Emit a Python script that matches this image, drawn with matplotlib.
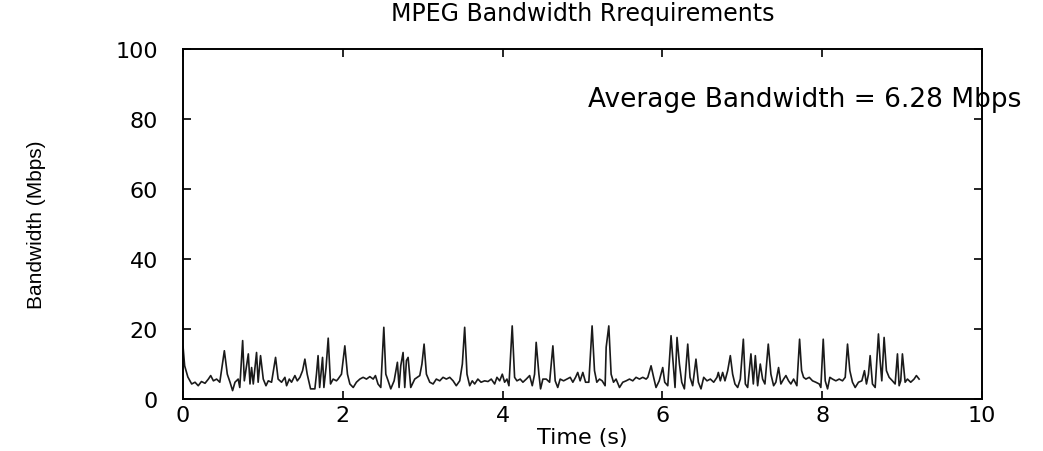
import matplotlib
matplotlib.use("Agg")
import matplotlib.pyplot as plt

# ---- data ----
time_s = [
    0.00, 0.02, 0.06, 0.108, 0.15, 0.19, 0.23, 0.275, 0.317, 0.346, 0.38, 0.42, 0.46,
    0.517, 0.554, 0.588, 0.62, 0.65, 0.69, 0.71, 0.746, 0.767, 0.817, 0.838, 0.858,
    0.879, 0.92, 0.94, 0.97, 1.004, 1.038, 1.067, 1.108, 1.158, 1.19, 1.233, 1.275,
    1.296, 1.33, 1.358, 1.40, 1.43, 1.463, 1.496, 1.525, 1.554, 1.596, 1.65, 1.67,
    1.69, 1.71, 1.746, 1.763, 1.79, 1.817, 1.846, 1.879, 1.92,
    1.94, 1.983, 2.025, 2.058, 2.088, 2.13, 2.17, 2.213, 2.254, 2.296, 2.338, 2.38,
    2.408, 2.44, 2.475, 2.513, 2.538, 2.567, 2.60, 2.642, 2.683, 2.704, 2.725, 2.754,
    2.775, 2.796, 2.817, 2.85, 2.90, 2.963, 2.99, 3.017, 3.046, 3.088, 3.13, 3.17,
    3.213, 3.254, 3.296, 3.338, 3.38, 3.42, 3.463, 3.496, 3.525, 3.554, 3.588, 3.62,
    3.65, 3.69, 3.73, 3.775, 3.817, 3.858,
    3.90, 3.929, 3.963, 3.996, 4.025, 4.054, 4.079, 4.12, 4.15, 4.179, 4.22, 4.254,
    4.296, 4.338, 4.371, 4.40, 4.42, 4.454, 4.475, 4.504, 4.546, 4.588, 4.629, 4.658,
    4.69, 4.72, 4.763, 4.804, 4.846, 4.879, 4.913, 4.94, 4.97, 5.004, 5.038, 5.079,
    5.12, 5.15, 5.179, 5.213, 5.246, 5.283, 5.296, 5.329, 5.358, 5.388, 5.42, 5.463,
    5.504, 5.546, 5.588, 5.629, 5.67, 5.713, 5.754, 5.796,
    5.817, 5.858, 5.89, 5.92, 5.96, 6.004, 6.029, 6.067, 6.108, 6.138, 6.158, 6.183,
    6.213, 6.242, 6.275, 6.317, 6.346, 6.379, 6.42, 6.45, 6.483, 6.517, 6.558, 6.60,
    6.642, 6.683, 6.70, 6.725, 6.754, 6.783, 6.817, 6.85, 6.879, 6.908, 6.942, 6.975,
    7.013, 7.038, 7.067, 7.108, 7.138, 7.163, 7.192, 7.225, 7.254, 7.283, 7.325, 7.358,
    7.392, 7.42, 7.454, 7.483, 7.517, 7.546, 7.579, 7.608, 7.642, 7.683, 7.717, 7.742,
    7.767,
    7.796, 7.838, 7.879, 7.92, 7.963, 7.983, 8.013, 8.038, 8.067, 8.096, 8.129, 8.171,
    8.213, 8.254, 8.288, 8.317, 8.346, 8.379, 8.413, 8.454, 8.496, 8.529, 8.554, 8.579,
    8.60, 8.629, 8.663, 8.704, 8.725, 8.746, 8.775, 8.804, 8.838, 8.879, 8.913, 8.942,
    8.963, 8.983, 9.004, 9.038, 9.067, 9.108, 9.15, 9.179, 9.213,
]
bandwidth_mbps = [
    15.0, 9.5, 6.3, 4.3, 4.8, 3.8, 5.0, 4.5, 5.7, 6.7, 5.2, 5.7, 4.8,
    13.8, 7.1, 4.8, 2.4, 4.8, 5.7, 3.3, 16.7, 5.2, 12.9, 4.3, 9.0,
    4.3, 13.3, 4.8, 12.4, 5.7, 3.8, 5.2, 4.8, 11.9, 5.7, 4.8, 6.2,
    3.8, 5.7, 4.8, 6.7, 5.2, 6.2, 8.1, 11.4, 7.1, 2.9, 2.9, 7.1,
    12.4, 3.3, 11.9, 3.3, 9.0, 17.4, 4.3, 5.7, 5.2,
    5.7, 7.1, 15.2, 7.1, 4.3, 3.3, 4.8, 5.7, 6.2, 5.7, 6.4, 5.7,
    6.7, 4.3, 3.3, 20.5, 7.1, 5.2, 2.9, 5.2, 10.5, 3.3, 9.5, 13.3,
    3.3, 11.0, 11.9, 3.3, 5.7, 6.7, 10.0, 15.7, 7.1, 4.8, 4.3, 5.7,
    5.2, 6.2, 5.7, 6.2, 5.2, 3.8, 5.2, 10.0, 20.5, 7.1, 3.8, 5.2,
    4.3, 5.7, 4.8, 5.2, 5.0, 5.7,
    4.3, 6.2, 5.2, 7.1, 4.8, 5.7, 3.8, 20.9, 6.2, 5.2, 5.7, 4.8,
    5.7, 6.7, 3.8, 7.1, 16.2, 7.1, 2.9, 5.7, 5.7, 4.8, 15.2, 5.2,
    3.3, 5.7, 5.2, 5.7, 6.2, 4.8, 6.2, 7.6, 5.2, 7.6, 4.8, 4.8,
    20.9, 8.1, 4.8, 5.7, 5.2, 3.8, 14.8, 20.9, 7.1, 4.8, 5.7, 3.3,
    4.8, 5.2, 5.7, 5.2, 6.2, 5.7, 6.2, 5.7,
    6.2, 9.5, 6.2, 3.3, 5.2, 9.0, 4.8, 3.8, 18.1, 9.0, 3.3, 17.6,
    10.0, 4.8, 2.9, 15.7, 6.2, 3.8, 11.4, 4.8, 2.9, 6.2, 5.2, 5.7,
    4.8, 6.2, 7.6, 5.2, 7.6, 5.2, 8.1, 12.4, 7.1, 4.3, 3.3, 5.7,
    17.1, 4.3, 3.3, 12.9, 4.3, 12.4, 3.8, 10.0, 5.7, 4.3, 15.7, 7.1,
    3.8, 4.8, 9.0, 4.3, 5.7, 6.7, 5.2, 4.3, 5.7, 3.8, 17.1, 8.1,
    6.2,
    5.7, 6.2, 5.2, 4.8, 4.3, 3.3, 17.1, 5.2, 2.9, 6.2, 5.7, 5.2,
    5.7, 5.2, 6.2, 15.7, 8.1, 4.8, 3.3, 4.8, 5.2, 8.1, 4.3, 7.1,
    12.4, 4.3, 3.3, 18.6, 11.0, 5.2, 17.6, 8.1, 6.2, 5.2, 4.3, 12.9,
    3.8, 5.2, 12.9, 4.8, 5.7, 4.8, 5.7, 6.7, 5.7,
]
x_ticks = [0, 2, 4, 6, 8, 10]
y_ticks = [0, 20, 40, 60, 80, 100]
title_text = "MPEG Bandwidth Rrequirements"
x_label = "Time (s)"
y_label = "Bandwidth (Mbps)"
avg_text = "Average Bandwidth = 6.28 Mbps"

# ---- figure ----
fig = plt.figure(figsize=(10.43, 4.52), dpi=100)
ax = fig.add_axes([0.1755, 0.115, 0.766, 0.774])

ax.plot(time_s, bandwidth_mbps, color="#1a1a1a", lw=1.2)

ax.set_xlim(0, 10)
ax.set_ylim(0, 100)
ax.set_xticks(x_ticks)
ax.set_yticks(y_ticks)

ax.tick_params(axis="both", direction="in", length=6, width=1.2,
               top=True, right=True, labelsize=16)
ax.tick_params(axis="y", pad=18)
ax.tick_params(axis="x", pad=4)
for s in ax.spines.values():
    s.set_linewidth(1.4)

ax.set_title(title_text, fontsize=17, pad=21)
ax.set_xlabel(x_label, fontsize=16, labelpad=2)
ax.set_ylabel(y_label, fontsize=15, labelpad=50,
              family=["Liberation Sans", "DejaVu Sans"])

ax.text(5.07, 85.7, avg_text, fontsize=19, ha="left", va="center",
        clip_on=False)

fig.savefig("out.png", dpi=100)
